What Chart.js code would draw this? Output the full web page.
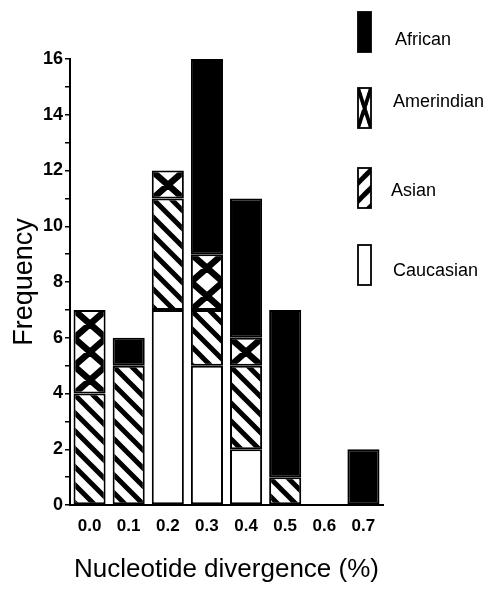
<!DOCTYPE html>
<html><head><meta charset="utf-8">
<script src="https://cdn.jsdelivr.net/npm/chart.js@4"></script>
<style>html,body{margin:0;padding:0;background:#fff;} #wrap{width:493px;height:590px;position:relative}</style>
</head><body><div id="wrap"><canvas id="c" width="493" height="590"></canvas></div>
<script>
// ---- data ----
const categories = ['0.0','0.1','0.2','0.3','0.4','0.5','0.6','0.7'];
const caucasian  = [0, 0, 7, 5, 2, 0, 0, 0];
const asian      = [4, 5, 4, 2, 3, 1, 0, 0];
const amerindian = [3, 0, 1, 2, 1, 0, 0, 0];
const african    = [0, 1, 0, 7, 5, 6, 0, 2];
const seriesLabels = ['Caucasian', 'Asian', 'Amerindian', 'African'];
const yMin = 0, yMax = 16, yStep = 1, yLabelStep = 2;
const xTitle = 'Nucleotide divergence (%)';
const yTitle = 'Frequency';

const allSeries = [caucasian, asian, amerindian, african];
const FONT = '"Liberation Sans", Arial, Helvetica, sans-serif';

// ---- pattern tiles ----
function stripeTile() {
  const s = 18, c = document.createElement('canvas');
  c.width = s; c.height = s;
  const g = c.getContext('2d');
  g.fillStyle = '#fff'; g.fillRect(0, 0, s, s);
  g.strokeStyle = '#000'; g.lineWidth = 5; g.lineCap = 'square';
  g.beginPath();
  for (const o of [-2 * s, -s, 0, s, 2 * s]) { g.moveTo(o - s, -s); g.lineTo(o + 2 * s, 2 * s); }
  g.stroke();
  return c;
}
function crossTile() {
  const w = 32, h = 28, c = document.createElement('canvas');
  c.width = w; c.height = h;
  const g = c.getContext('2d');
  g.fillStyle = '#fff'; g.fillRect(0, 0, w, h);
  g.strokeStyle = '#000'; g.lineWidth = 6.5; g.lineCap = 'square';
  g.beginPath();
  for (const ox of [-w, 0, w]) for (const oy of [-h, 0, h]) {
    g.moveTo(ox, oy); g.lineTo(ox + w, oy + h);
    g.moveTo(ox + w, oy); g.lineTo(ox, oy + h);
  }
  g.stroke();
  return c;
}
const tiles = { stripe: stripeTile(), cross: crossTile() };
const kinds = ['white', 'stripe', 'cross', 'black'];

function fillFor(dsIndex) {
  const kind = kinds[dsIndex];
  return (ctx) => {
    if (kind === 'white') return '#ffffff';
    if (kind === 'black') return '#000000';
    const chart = ctx.chart;
    const xs = chart.scales && chart.scales.x, ys = chart.scales && chart.scales.y;
    if (!xs || !ys || ctx.type !== 'data') return '#ffffff';
    const i = ctx.dataIndex;
    let top = 0;
    for (let d = 0; d <= dsIndex; d++) top += allSeries[d][i];
    const cx = xs.getPixelForValue(i);
    const ty = ys.getPixelForValue(top);
    const pat = chart.ctx.createPattern(tiles[kind], 'repeat');
    pat.setTransform(new DOMMatrix().translate(Math.round(cx - 16), Math.round(ty)));
    return pat;
  };
}

const datasets = allSeries.map((vals, d) => ({
  label: seriesLabels[d],
  data: vals,
  backgroundColor: fillFor(d),
  borderColor: '#000',
  borderWidth: 2,
  borderSkipped: false,
  categoryPercentage: 1.0,
  barPercentage: 0.82
}));

// ---- side legend drawn to the right ----
const sideLegend = {
  id: 'sideLegend',
  afterDraw(chart) {
    const c = chart.ctx;
    const order = [3, 2, 1, 0];
    const tops = [12, 88, 168, 245];
    const textY = [40, 102, 191, 271];
    const textX = [395, 393, 391, 393];
    const x = 358, w = 13, h = 40;
    order.forEach((d, k) => {
      const y = tops[k];
      const kind = kinds[d];
      c.save();
      let fill;
      if (kind === 'white') fill = '#fff';
      else if (kind === 'black') fill = '#000';
      else if (kind === 'cross') {
        fill = c.createPattern(tiles.cross, 'repeat');
        fill.setTransform(new DOMMatrix().translate(x, y).scale(w / 32, h / 28));
      } else {
        fill = c.createPattern(tiles.stripe, 'repeat');
        fill.setTransform(new DOMMatrix().translate(x + w, y + 2).scale(-1, 1));
      }
      c.fillStyle = fill;
      c.fillRect(x, y, w, h);
      c.strokeStyle = '#000'; c.lineWidth = 1.8;
      c.strokeRect(x, y, w, h);
      c.fillStyle = '#000';
      c.font = '18px ' + FONT;
      c.textBaseline = 'middle'; c.textAlign = 'left';
      c.fillText(seriesLabels[d], textX[k], textY[k]);
      c.restore();
    });
  }
};

new Chart(document.getElementById('c'), {
  type: 'bar',
  data: { labels: categories, datasets },
  plugins: [sideLegend],
  options: {
    responsive: false,
    animation: false,
    devicePixelRatio: 1,
    layout: { padding: { left: 0, right: 110, top: 59, bottom: 0 } },
    plugins: { legend: { display: false }, tooltip: { enabled: false } },
    scales: {
      x: {
        stacked: true,
        grid: { display: false, drawTicks: false },
        border: { display: true, color: '#000', width: 2 },
        ticks: { color: '#000', font: { family: FONT, size: 17, weight: 'bold' }, padding: 11, maxRotation: 0, autoSkip: false },
        title: { display: true, text: xTitle, color: '#000', font: { family: FONT, size: 26 }, padding: { top: 0, bottom: 5 } },
        afterFit(s) { s.height = 85; }
      },
      y: {
        stacked: true,
        min: yMin, max: yMax,
        grid: { display: true, drawOnChartArea: false, drawTicks: true, tickLength: 5, color: '#000', lineWidth: 1.5 },
        border: { display: true, color: '#000', width: 2 },
        ticks: {
          stepSize: yStep, autoSkip: false, color: '#000', padding: 2,
          font: { family: FONT, size: 18, weight: 'bold' },
          callback: (v) => (v % yLabelStep === 0 ? String(v) : '')
        },
        title: { display: true, text: yTitle, color: '#000', font: { family: FONT, size: 27 }, padding: { top: 8, bottom: 0 } },
        afterFit(s) { s.width = 70; }
      }
    }
  }
});
</script>
</body></html>
